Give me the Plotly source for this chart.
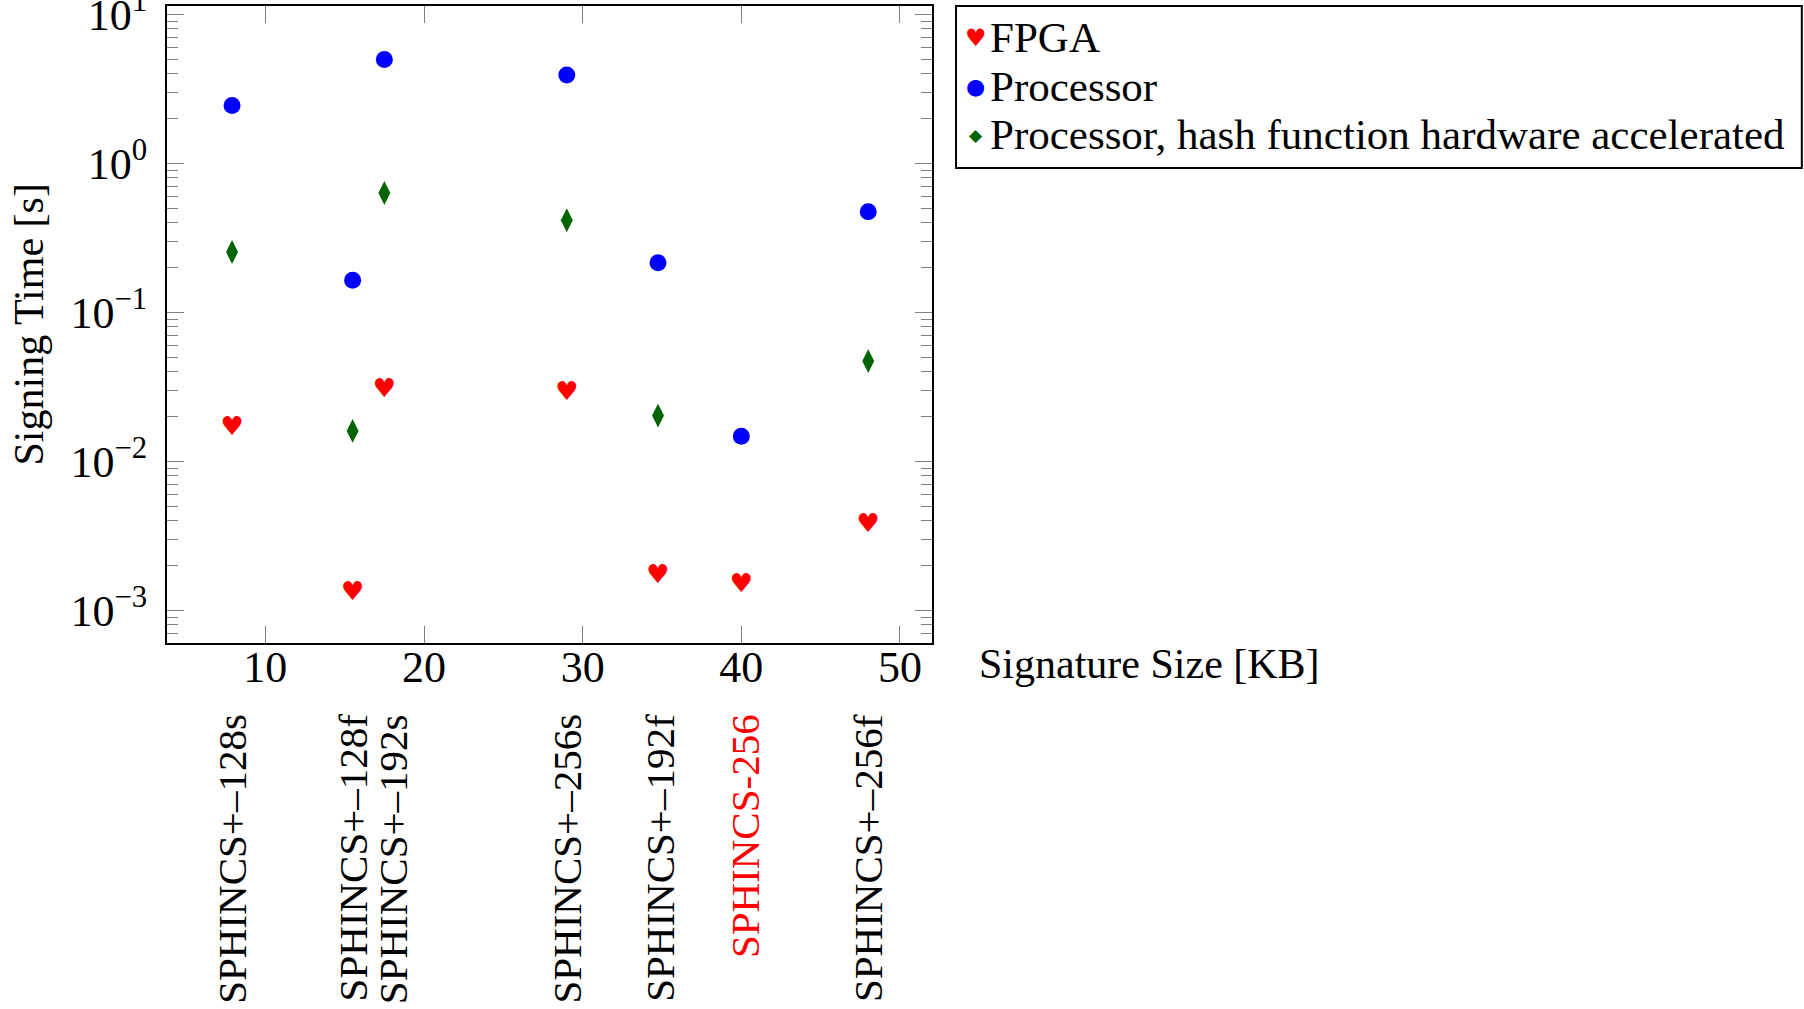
import plotly.graph_objects as go

# ---- data ----
sig_size_kb = [7.9, 15.5, 17.5, 29.0, 34.75, 40.0, 48.0]
designs = ["SPHINCS+–128s", "SPHINCS+–128f", "SPHINCS+–192s", "SPHINCS+–256s",
           "SPHINCS+–192f", "SPHINCS-256", "SPHINCS+–256f"]
fpga_time = [0.0166, 0.0013, 0.0301, 0.0284, 0.00168, 0.00146, 0.00371]
proc_time = [2.44, 0.164, 4.98, 3.91, 0.215, 0.01476, 0.473]
accel_time = [0.254, 0.0160, 0.632, 0.415, 0.0203, None, 0.0471]
label_colors = ["black", "black", "black", "black", "black", "red", "black"]
label_xshift = [0, 0, 8, 0, 2, 3, 0]

y_tick_exp = [-3, -2, -1, 0, 1]
x_ticks = [10, 20, 30, 40, 50]

FONT = "Liberation Serif"
FS = 42
TFS = 44
TICKC = "#808080"

fig = go.Figure()
fig.add_trace(go.Scatter(x=sig_size_kb, y=proc_time, mode="markers", name="Processor",
                         marker=dict(symbol="circle", size=17, color="#0000ff"), showlegend=False))
fig.add_trace(go.Scatter(x=sig_size_kb, y=accel_time, mode="markers",
                         name="Processor, hash function hardware accelerated",
                         marker=dict(symbol="diamond-tall", size=17, color="#006400"), showlegend=False))
fig.add_trace(go.Scatter(x=sig_size_kb, y=fpga_time, mode="text", name="FPGA",
                         text=["♥"] * len(fpga_time), textposition="middle center",
                         textfont=dict(family="DejaVu Sans", size=26, color="#ff0000"), showlegend=False))

minor_vals = [m * 10 ** e for e in range(-4, 2) for m in range(2, 10)]

fig.update_layout(
    width=1804, height=1009,
    margin=dict(l=167, r=872, t=6, b=366, autoexpand=False),
    paper_bgcolor="white", plot_bgcolor="white",
    font=dict(family=FONT, size=FS, color="black"),
    showlegend=False,
)
fig.update_xaxes(
    range=[3.8, 52.02], tickvals=x_ticks, ticks="inside", ticklen=17, tickwidth=1.3,
    tickcolor=TICKC, showline=True, linecolor="black", linewidth=2, mirror="allticks",
    showgrid=False, zeroline=False, tickfont=dict(family=FONT, size=TFS),
    ticklabelstandoff=-16, automargin=False,
)
fig.update_yaxes(
    type="log", range=[-3.219, 1.0557],
    tickvals=[10 ** e for e in y_tick_exp],
    ticktext=[f"10<sup>{'−' if e < 0 else ''}{abs(e)}</sup>" for e in y_tick_exp],
    ticks="inside", ticklen=17, tickwidth=1.3, tickcolor=TICKC,
    minor=dict(tickvals=minor_vals, ticks="inside", ticklen=11, tickwidth=1.2, tickcolor=TICKC, showgrid=False),
    showline=True, linecolor="black", linewidth=2, mirror="allticks",
    showgrid=False, zeroline=False, tickfont=dict(family=FONT, size=TFS), ticklabelstandoff=9,
    automargin=False, ticklabeloverflow="allow",
)

# y axis title
fig.add_annotation(text="Signing Time [s]", xref="paper", yref="paper", x=-0.1804, y=0.5,
                   textangle=-90, showarrow=False, xanchor="center", yanchor="middle",
                   font=dict(family=FONT, size=FS))
# x axis title (to the right)
fig.add_annotation(text="Signature Size [KB]", xref="paper", yref="paper", x=1.0588, y=-0.033,
                   showarrow=False, xanchor="left", yanchor="middle", font=dict(family=FONT, size=FS))

# rotated design labels
for xv, name, col, dx in zip(sig_size_kb, designs, label_colors, label_xshift):
    fig.add_annotation(text=name, x=xv, xref="x", y=-0.108, yref="paper", textangle=-90,
                       showarrow=False, xanchor="center", yanchor="top", xshift=dx,
                       font=dict(family=FONT, size=41, color=col))

# legend box
fig.add_shape(type="rect", xref="paper", yref="paper", x0=1.0314, x1=2.137, y0=0.7457, y1=1.0,
              line=dict(color="black", width=2), fillcolor="rgba(0,0,0,0)")
legend_items = [("♥", "#ff0000", 24, "FPGA", 0.9498),
                ("●", "#0000ff", 22, "Processor", 0.8744),
                ("◆", "#006400", 17, "Processor, hash function hardware accelerated", 0.7975)]
for sym, col, ssz, lab, yy in legend_items:
    fig.add_annotation(text=sym, xref="paper", yref="paper", x=1.0575, y=yy, showarrow=False,
                       xanchor="center", yanchor="middle",
                       font=dict(family="DejaVu Sans", size=ssz, color=col))
    fig.add_annotation(text=lab, xref="paper", yref="paper", x=1.0735, y=yy, showarrow=False,
                       xanchor="left", yanchor="middle", font=dict(family=FONT, size=43))

fig.write_html("out.html", config={"displayModeBar": False},
               post_script="document.body.style.margin='0';document.body.style.overflow='hidden';")
